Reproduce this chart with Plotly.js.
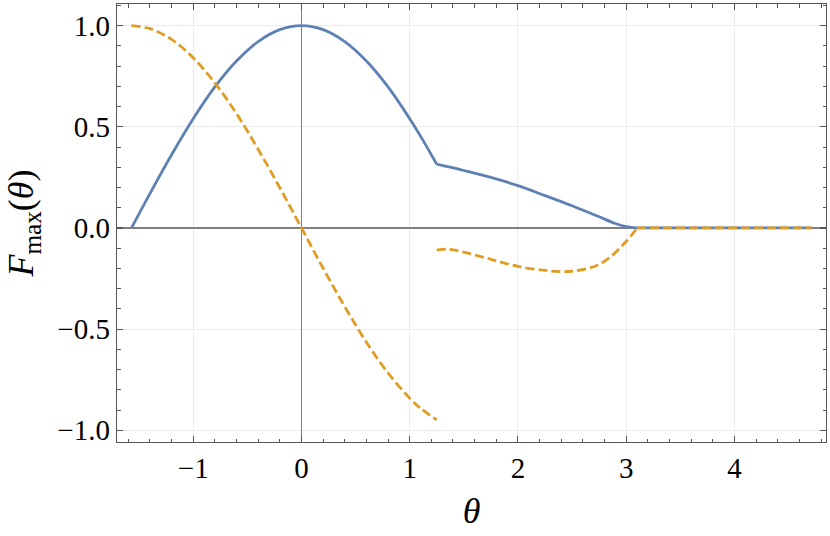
<!DOCTYPE html>
<html>
<head>
<meta charset="utf-8">
<script src="https://cdn.plot.ly/plotly-3.0.1.min.js"></script>
<style>
  html, body { margin: 0; padding: 0; background: #fff; }
  #plot { width: 830px; height: 536px; }
</style>
</head>
<body>
<div id="plot"></div>
<script>
// values
const blueThetaA = [-1.57, -1.4, -1.2, -1.0, -0.8, -0.6, -0.4, -0.2, 0, 0.2, 0.4, 0.6, 0.8, 1.0, 1.1, 1.25];
const blueFA     = [0, 0.17, 0.362, 0.54, 0.697, 0.825, 0.921, 0.98, 1.0, 0.98, 0.921, 0.825, 0.697, 0.54, 0.454, 0.315];

const blueThetaB = [1.25, 1.5, 1.75, 2.0, 2.25, 2.5, 2.75, 2.9, 3.0, 3.1];
const blueFB     = [0.315, 0.284, 0.25, 0.209, 0.16, 0.11, 0.055, 0.022, 0.006, 0];

const orangeThetaA = [-1.57, -1.4, -1.2, -1.0, -0.8, -0.6, -0.4, -0.2, 0, 0.2, 0.4, 0.6, 0.8, 1.0, 1.1, 1.25];
const orangeFA     = [1.0, 0.985, 0.932, 0.841, 0.717, 0.565, 0.389, 0.199, 0, -0.199, -0.389, -0.565, -0.717, -0.841, -0.891, -0.949];

const orangeThetaB = [1.25, 1.35, 1.5, 1.75, 2.0, 2.25, 2.4, 2.5, 2.65, 2.75, 2.85, 2.95, 3.0, 3.05, 3.1];
const orangeFB     = [-0.11, -0.105, -0.12, -0.155, -0.19, -0.21, -0.216, -0.214, -0.2, -0.18, -0.145, -0.095, -0.066, -0.035, 0];

// both curves sit on zero from here to the end
const tailTheta = [3.1, 4.71];
const tailF     = [0, 0];

const xTicks = [-1, 0, 1, 2, 3, 4];
const yTicks = [-1, -0.5, 0, 0.5, 1];

const blue = '#5E81B5';
const orange = '#E19C24';

const solid = {color: blue, width: 2.8, shape: 'spline', smoothing: 1};
const dashed = {color: orange, width: 2.8, dash: '9px,4px', shape: 'spline', smoothing: 1};

const traces = [
    {x: blueThetaA, y: blueFA, mode: 'lines', line: solid},
    {x: blueThetaB, y: blueFB, mode: 'lines', line: solid},
    {x: tailTheta, y: tailF, mode: 'lines', line: {...solid, shape: 'linear'}},
    {x: orangeThetaA, y: orangeFA, mode: 'lines', line: dashed},
    {x: orangeThetaB, y: orangeFB, mode: 'lines', line: dashed},
    {x: tailTheta, y: tailF, mode: 'lines', line: {...dashed, shape: 'linear'}},
];

const tickFont = {family: "'Liberation Serif', 'DejaVu Serif', serif", size: 29, color: '#000'};
const titleFont = {family: "'Liberation Serif', 'DejaVu Serif', serif", size: 36, color: '#000'};

const axisBase = {
    showline: true,
    linecolor: '#555',
    linewidth: 1.3,
    mirror: 'ticks',
    ticks: 'inside',
    ticklen: 6,
    tickwidth: 1.1,
    tickcolor: '#555',
    showgrid: true,
    gridcolor: '#ececec',
    gridwidth: 1,
    zeroline: true,
    zerolinecolor: '#808080',
    zerolinewidth: 1.3,
    tickfont: tickFont,
};

const layout = {
    width: 830,
    height: 536,
    margin: {l: 117, r: 4, t: 4, b: 94},
    paper_bgcolor: '#fff',
    plot_bgcolor: '#fff',
    showlegend: false,
    xaxis: {
        ...axisBase,
        range: [-1.704, 4.846],
        tickvals: xTicks,
        ticktext: xTicks.map(v => v < 0 ? '\u2212' + Math.abs(v) : String(v)),
        minor: {dtick: 0.2, ticks: 'inside', ticklen: 3.5, tickcolor: '#555', tickwidth: 1, showgrid: false},
        title: {text: '<i>θ</i>', font: titleFont, standoff: 14},
    },
    yaxis: {
        ...axisBase,
        range: [-1.058, 1.107],
        tickvals: yTicks,
        ticktext: yTicks.map(v => (v < 0 ? '\u2212' : '') + Math.abs(v).toFixed(1)),
        minor: {dtick: 0.1, ticks: 'inside', ticklen: 3.5, tickcolor: '#555', tickwidth: 1, showgrid: false},
        title: {text: '<i>F</i><sub>max</sub>(<i>θ</i>)', font: titleFont, standoff: 12},
    },
};

Plotly.newPlot('plot', traces, layout, {staticPlot: true});
</script>
</body>
</html>
